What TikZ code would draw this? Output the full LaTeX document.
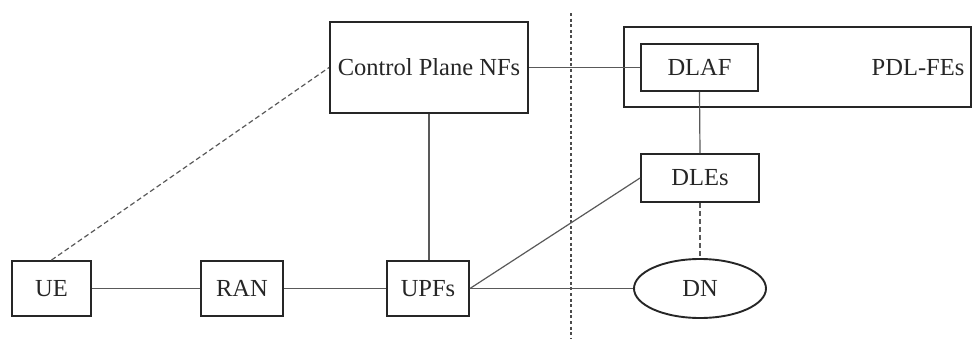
\documentclass[tikz,border=0pt]{standalone}
\usepackage{fontspec}
\setmainfont{Liberation Serif}
\usetikzlibrary{shapes.geometric}
\begin{document}
\begin{tikzpicture}[x=1pt,y=-1pt,
  every node/.style={font=\fontsize{24.5}{29}\selectfont, text=black!85, inner sep=0pt},
  box/.style={draw=black!85, line width=1.9pt, rectangle},
  oval/.style={draw=black!85, line width=1.9pt, ellipse},
  link/.style={draw=black!65, line width=1.2pt},
  dlink/.style={link, dash pattern=on 5pt off 3pt},
  border/.style={draw=black!70, line width=1.3pt, dash pattern=on 3pt off 2.6pt}]
\useasboundingbox (0,0) rectangle (972,338);

% outer PDL-FEs frame
\node[box, minimum width=347pt, minimum height=80pt] (pdl) at (797.5,67) {};
\node (pdllabel) at (918,68) {PDL-FEs};

% functions
\node[box, minimum width=79pt, minimum height=55pt] (ue) at (51.5,288.5) {UE};
\node[box, minimum width=82pt, minimum height=55pt] (ran) at (242,288.5) {RAN};
\node[box, minimum width=82pt, minimum height=55pt] (upf) at (428,288.5) {UPFs};
\node[box, minimum width=198pt, minimum height=91pt] (cp) at (429,67.5) {Control Plane NFs};
\node[box, minimum width=117pt, minimum height=47pt] (dlaf) at (699.5,67.5) {DLAF};
\node[box, minimum width=118pt, minimum height=48pt] (dle) at (700,178) {DLEs};
\node[oval, minimum width=132pt, minimum height=59pt] (dn) at (700,288.5) {DN};

% domain boundary
\coordinate (btop) at (571,13);
\coordinate (bbot) at (571,338);
\draw[border] (btop) -- (bbot);

% connections
\draw[link] (ue) -- (ran);
\draw[link] (ran) -- (upf);
\draw[link] (upf) -- (dn);
\draw[link] (cp.south) -- (cp.south |- upf.north);
\draw[link] (cp.east) -- (dlaf.west);
\draw[link] (dlaf.south) -- (dle.north);
\draw[link] (upf.east) -- (dle.west);
\draw[dlink] (dle.south) -- (dn.north);
\draw[dlink] (ue.north) -- (cp.west);
\end{tikzpicture}
\end{document}
